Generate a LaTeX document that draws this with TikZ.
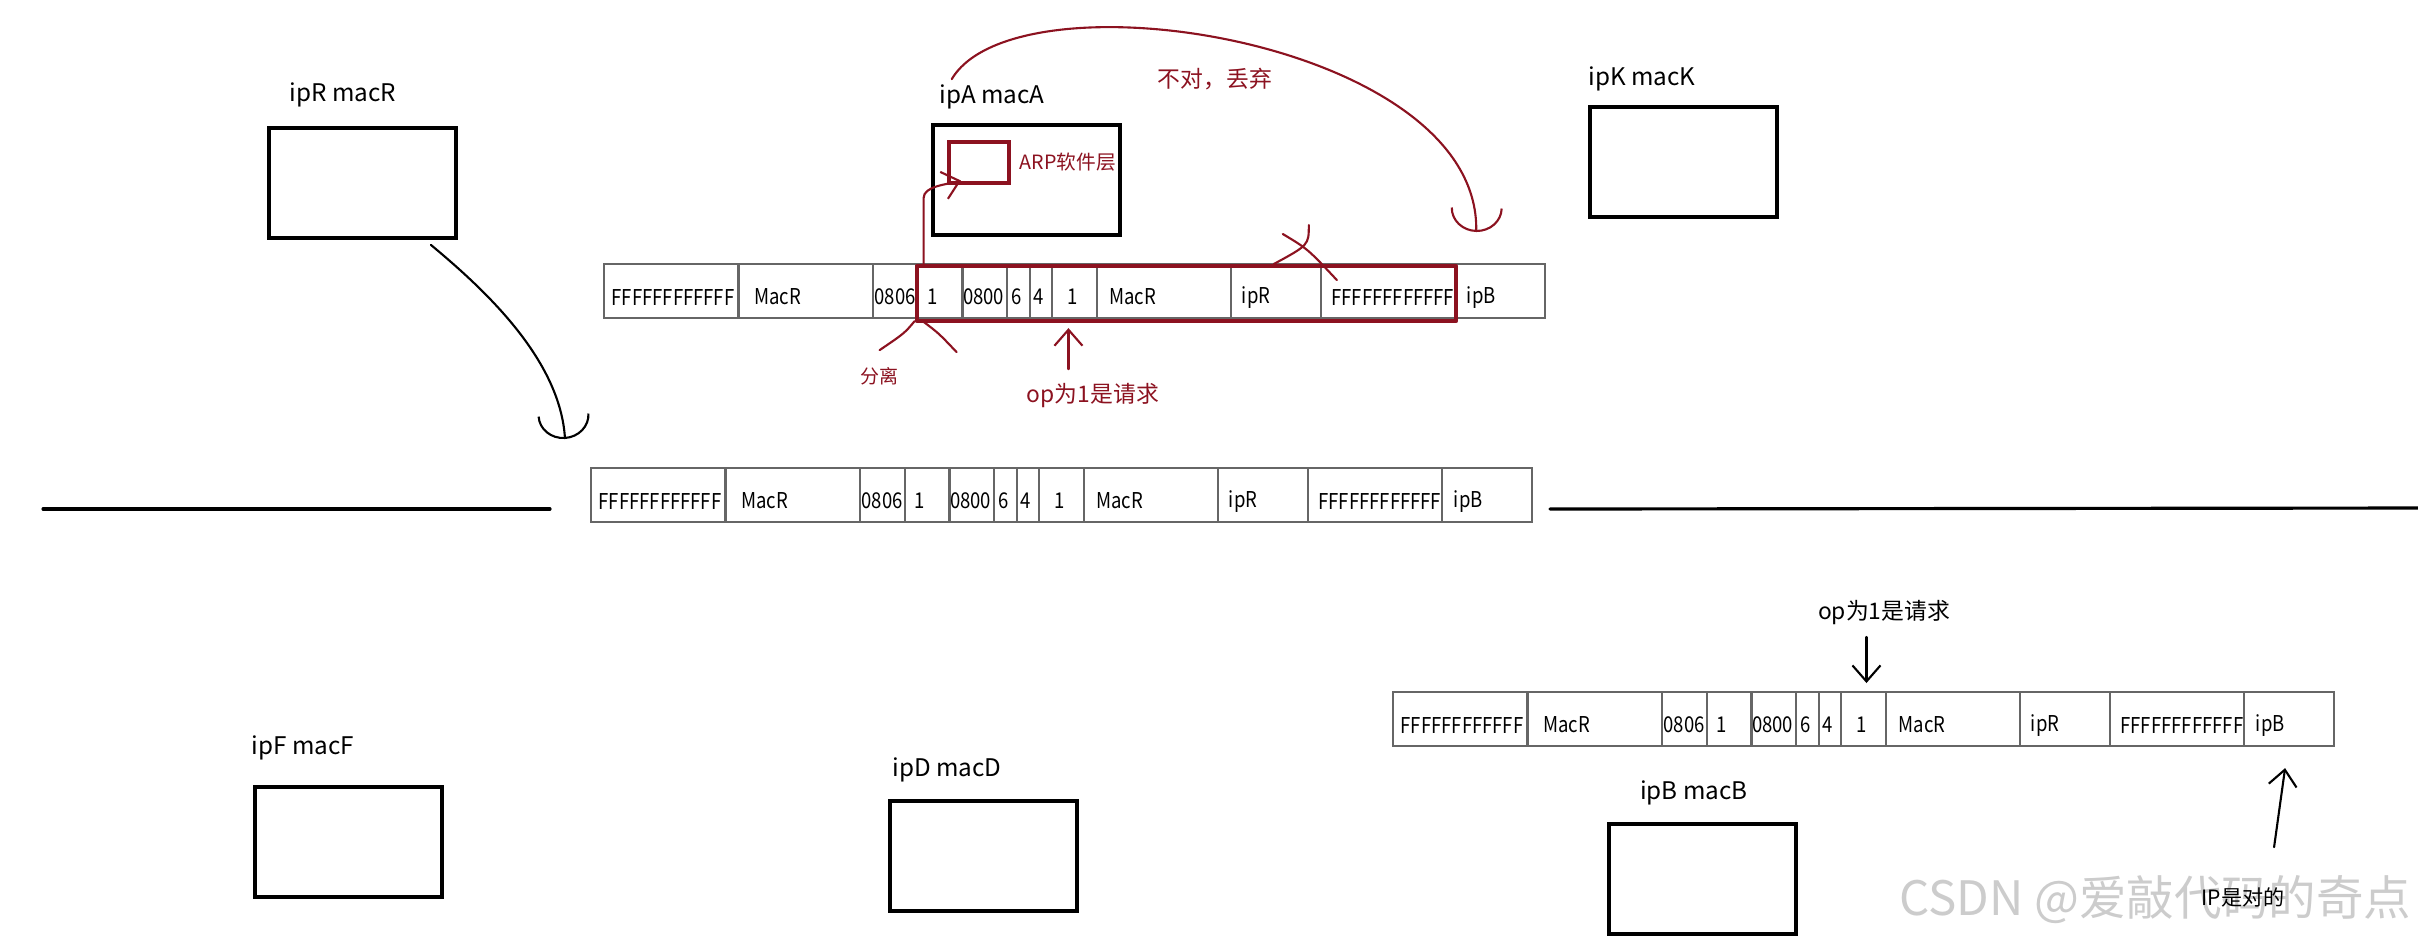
\documentclass[tikz,border=0pt]{standalone}
\usepackage{fontspec}
\setmainfont{Noto Sans CJK SC}
\newfontfamily\fieldfont[FakeStretch=0.85]{Noto Sans CJK SC}
\usepackage{tikz}
\usetikzlibrary{positioning,arrows.meta,calc}

\definecolor{arpred}{RGB}{140,18,32}

\begin{document}
\begin{tikzpicture}[
  x=0.1mm, y=-0.1mm,
  every node/.style={inner sep=0pt},
  host/.style   ={rectangle, draw=black, line width=1.1pt, anchor=north west,
                  minimum width=18.7mm, minimum height=11mm},
  hlbl/.style   ={font=\fontsize{6.9}{8}\selectfont},
  fld/.style    ={rectangle, draw=black!60, line width=0.6pt, anchor=north west,
                  minimum height=5.4mm},
  ftxt/.style   ={anchor=west, yshift=-0.6mm,
                  font=\fieldfont\fontsize{6.2}{7}\selectfont},
  pen/.style    ={draw=black, line width=0.6pt, line cap=round, line join=round},
  redpen/.style ={pen, draw=arpred},
  rnote/.style  ={text=arpred, font=\fontsize{6.5}{8}\selectfont},
  bnote/.style  ={font=\fontsize{6.5}{8}\selectfont},
  cup/.style    ={-{Arc Barb[length=2.4mm, width=5.2mm]}},
  barb/.style   ={-{Straight Barb[length=1.6mm, width=2.8mm]}},
]
\fill[white] (0,0) rectangle (2418,939);
\useasboundingbox (0,0) rectangle (2418,939);

% watermark
\node[text=black!20, font=\fontsize{13.5}{16}\selectfont, anchor=east] (mark) at (2412,900) {CSDN @爱敲代码的奇点};

% hosts
\node[host] (hostR) at (267,126)  {};
\node[host] (hostA) at (931,123)  {};
\node[host] (hostK) at (1588,105) {};
\node[host] (hostF) at (253,785)  {};
\node[host] (hostD) at (888,799)  {};
\node[host] (hostB) at (1607,822) {};

\node[hlbl] (lblR) at (343,95)   {ipR macR};
\node[hlbl] (lblA) at (992,97)   {ipA macA};
\node[hlbl] (lblK) at (1642,79)  {ipK macK};
\node[hlbl] (lblF) at (303,748)  {ipF macF};
\node[hlbl] (lblD) at (947,770)  {ipD macD};
\node[hlbl] (lblB) at (1694,793) {ipB macB};

% ARP layer inside host A
\node[rectangle, draw=arpred, line width=1pt, anchor=north west,
      minimum width=6mm, minimum height=4.1mm] (arp) at (947,140) {};
\node[rnote, anchor=west, font=\fontsize{5.6}{7}\selectfont] (arplbl) at (1019,162) {ARP软件层};

% the wire
\draw[pen, line width=0.9pt] (43,509) -- (550,509);
\draw[pen, line width=0.9pt] (1550,509) -- (2418,508);

% three copies of the request frame (text / width in bytes / text indent)
\foreach \p/\px/\py in {p1/603/263, p2/590/467, p3/1392/691}
  \foreach \txt/\w/\pad [count=\i, remember=\xe as \xs (initially 0), evaluate=\w as \xe using \xs+\w]
    in {FFFFFFFFFFFF/6/8, MacR/6/16, 0806/2/2, 1/2/10, 0800/2/1, 6/1/5, 4/1/4,
        1/2/16, MacR/6/13, ipR/4/11, FFFFFFFFFFFF/6/11, ipB/4/12}
    \node[fld, minimum width=\w*2.24mm,
          label={[ftxt, xshift=\pad*0.1mm]west:\txt}] (\p-\i) at (\px+\xs*22.4, \py) {};

% ARP part of the first frame
\draw[redpen, line width=1.1pt] ($(p1-4.north west)+(0,3)$) rectangle ($(p1-11.south east)+(0,2)$);

% host R sends the request
\draw[pen, cup] ($(hostR.south east)+(-27,5)$) .. controls +(53,44) and +(-5,-80) .. ($(p2-1.north west)+(-25,-28)$);

% host A: hand it to ARP, then drop it
\draw[redpen, barb] ($(p1-4.north west)+(7,3)$) -- ++(0,-68) .. controls +(0,-12) and +(-14,4) .. ($(arp.south west)+(14,-4)$);
\draw[redpen, cup] ($(lblA.north west)+(13,-5)$) .. controls +(65,-110) and +(4,-192) .. ($(p1-12.north west)+(22,-31)$);
\node[rnote] (drop) at (1215,79) {不对，丢弃};

% split mark
\draw[redpen] ($(p1-4.south west)+(-2,2)$) .. controls +(-10,12) .. ($(p1-4.south west)+(-37,31)$);
\draw[redpen] ($(p1-4.south west)+(6,2)$) .. controls +(16,12) .. ($(p1-4.south west)+(40,33)$);
\node[rnote, font=\fontsize{5.4}{7}\selectfont] (split) at (879,376) {分离};

% op field
\draw[redpen, barb] ($(p1-8.south)+(-6,50)$) -- ($(p1-8.south)+(-6,9)$);
\node[rnote] (opA) at (1093,395) {op为1是请求};

% target ip crossed out
\draw[redpen] ($(p1-11.north west)+(-37,-29)$) .. controls +(25,15) .. ($(p1-11.north west)+(17,17)$);
\draw[redpen] ($(p1-11.north west)+(-11,-38)$) .. controls +(0,20) .. ($(p1-11.north west)+(-46,1)$);

% host B checks the frame
\node[bnote] (opB) at (1884,612) {op为1是请求};
\draw[pen, barb] ($(p3-8.north)+(3,-54)$) -- ($(p3-8.north)+(3,-8)$);
\draw[pen, barb] ($(p3-12.south)+(-15,100)$) -- ($(p3-12.south)+(-4,21)$);
\node[bnote, font=\fontsize{6}{7}\selectfont, anchor=east] (ipok) at (2285,897) {IP是对的};

\end{tikzpicture}
\end{document}
